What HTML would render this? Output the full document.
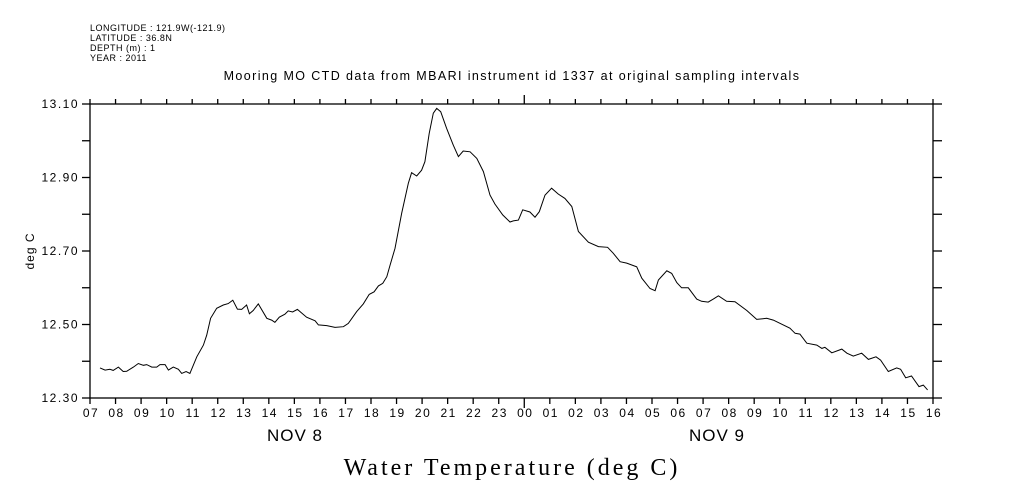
<!DOCTYPE html>
<html><head><meta charset="utf-8"><style>
body{margin:0;background:#fff;}
svg{display:block;font-family:"Liberation Sans",sans-serif;}
</style></head><body>
<svg id="chart" width="1009" height="504" viewBox="0 0 1009 504" xmlns="http://www.w3.org/2000/svg">
<g font-size="9" letter-spacing="0.5" fill="#000">
<text x="90" y="31">LONGITUDE : 121.9W(-121.9)</text>
<text x="90" y="41">LATITUDE : 36.8N</text>
<text x="90" y="51">DEPTH (m) : 1</text>
<text x="90" y="61">YEAR : 2011</text>
</g>
<text x="512" y="80" font-size="12.5" letter-spacing="1.4" text-anchor="middle">Mooring MO CTD data from MBARI instrument id 1337 at original sampling intervals</text>
<text transform="translate(34,251) rotate(-90)" font-size="12" letter-spacing="1" text-anchor="middle">deg C</text>
<text x="512" y="475" font-family="Liberation Serif, serif" font-size="24" letter-spacing="3" text-anchor="middle">Water Temperature (deg C)</text>
<text x="295" y="441" font-size="17" letter-spacing="1" text-anchor="middle">NOV  8</text>
<text x="717" y="441" font-size="17" letter-spacing="1" text-anchor="middle">NOV  9</text>
<g id="axes"></g>
<path id="series" fill="none" stroke="#000" stroke-width="1"/>
</svg>
<script>
const hours=[7.39,7.59,7.78,7.91,8.11,8.30,8.44,8.70,8.89,9.09,9.22,9.42,9.61,9.74,9.94,10.07,10.26,10.46,10.59,10.76,10.91,11.18,11.44,11.57,11.72,11.96,12.22,12.41,12.59,12.77,12.94,13.13,13.24,13.39,13.59,13.92,14.11,14.24,14.41,14.63,14.76,14.93,15.12,15.48,15.81,15.94,16.27,16.59,16.92,17.11,17.44,17.70,17.93,18.12,18.29,18.46,18.62,18.74,18.94,19.20,19.46,19.59,19.79,19.98,20.11,20.28,20.44,20.57,20.73,20.96,21.22,21.42,21.61,21.88,22.14,22.40,22.66,22.85,23.16,23.44,23.57,23.77,23.94,24.22,24.42,24.59,24.81,25.07,25.33,25.59,25.86,26.12,26.51,26.90,27.26,27.48,27.75,28.01,28.40,28.60,28.92,29.12,29.25,29.58,29.77,29.97,30.16,30.42,30.75,30.94,31.20,31.40,31.60,31.92,32.25,32.71,33.10,33.49,33.75,34.40,34.60,34.79,35.06,35.45,35.65,35.77,36.04,36.43,36.63,36.88,37.21,37.47,37.77,37.95,38.25,38.58,38.73,38.93,39.16,39.45,39.62,39.79];
const temps=[12.382,12.376,12.378,12.375,12.384,12.372,12.373,12.384,12.394,12.389,12.391,12.384,12.384,12.391,12.391,12.376,12.384,12.378,12.367,12.372,12.367,12.412,12.444,12.471,12.517,12.544,12.553,12.557,12.566,12.542,12.541,12.553,12.529,12.538,12.556,12.517,12.512,12.506,12.520,12.528,12.537,12.534,12.541,12.520,12.510,12.499,12.497,12.492,12.494,12.503,12.535,12.556,12.582,12.589,12.605,12.612,12.630,12.660,12.707,12.803,12.884,12.913,12.904,12.920,12.943,13.020,13.075,13.088,13.079,13.034,12.988,12.957,12.972,12.970,12.952,12.916,12.852,12.828,12.798,12.779,12.782,12.784,12.812,12.806,12.792,12.807,12.852,12.871,12.855,12.843,12.821,12.753,12.724,12.712,12.710,12.694,12.671,12.667,12.657,12.626,12.598,12.592,12.621,12.646,12.639,12.614,12.600,12.600,12.569,12.563,12.561,12.569,12.578,12.563,12.562,12.538,12.514,12.517,12.512,12.490,12.476,12.474,12.449,12.444,12.435,12.438,12.423,12.433,12.422,12.414,12.422,12.405,12.412,12.403,12.372,12.382,12.378,12.355,12.360,12.331,12.335,12.322];
const xTickLabels=["07","08","09","10","11","12","13","14","15","16","17","18","19","20","21","22","23","00","01","02","03","04","05","06","07","08","09","10","11","12","13","14","15","16"];
const yTickLabels=["12.30","12.50","12.70","12.90","13.10"];
const yMin=12.3,yMax=13.1,hMin=7,hMax=40;
const L=90,R=933,T=104,B=398;
const xs=h=>L+(h-hMin)/(hMax-hMin)*(R-L);
const ys=v=>B-(v-yMin)/(yMax-yMin)*(B-T);
const NS='http://www.w3.org/2000/svg';
const ax=document.getElementById('axes');
function ln(x1,y1,x2,y2,name){const e=document.createElementNS(NS,'line');
e.setAttribute('x1',x1);e.setAttribute('y1',y1);e.setAttribute('x2',x2);e.setAttribute('y2',y2);
e.setAttribute('stroke','#000');e.setAttribute('stroke-width','1.3');


ax.appendChild(e);}
function tx(x,y,s,anchor,size,ls,name){const e=document.createElementNS(NS,'text');
e.setAttribute('x',x);e.setAttribute('y',y);e.setAttribute('font-size',size);e.setAttribute('letter-spacing',ls);e.setAttribute('text-anchor',anchor);e.textContent=s;


ax.appendChild(e);}
const frame=document.createElementNS(NS,'rect');
frame.setAttribute('x',L);frame.setAttribute('y',T);frame.setAttribute('width',R-L);frame.setAttribute('height',B-T);
frame.setAttribute('fill','none');frame.setAttribute('stroke','#000');frame.setAttribute('stroke-width','1.3');


ax.appendChild(frame);
xTickLabels.forEach((s,i)=>{const h=hMin+i,x=xs(h);const big=(h===24);
ln(x,B,x,B+(big?10:6),'x-tick');ln(x,T,x,T-(big?9:5),'x-tick-top');
tx(x+1,417,s,'middle','12','1.5','x-tick-label');});
for(let k=0;k<=8;k++){const v=yMin+k*0.1,y=ys(v);ln(L-8,y,L,y,'y-tick');ln(R,y,R+9,y,'y-tick-right');}
yTickLabels.forEach(s=>{tx(79,ys(parseFloat(s))+4,s,'end','12','1.5','y-tick-label');});
document.getElementById('series').setAttribute('d',hours.map((h,i)=>(i?'L':'M')+xs(h).toFixed(1)+' '+ys(temps[i]).toFixed(1)).join(' '));
</script>
</body></html>
